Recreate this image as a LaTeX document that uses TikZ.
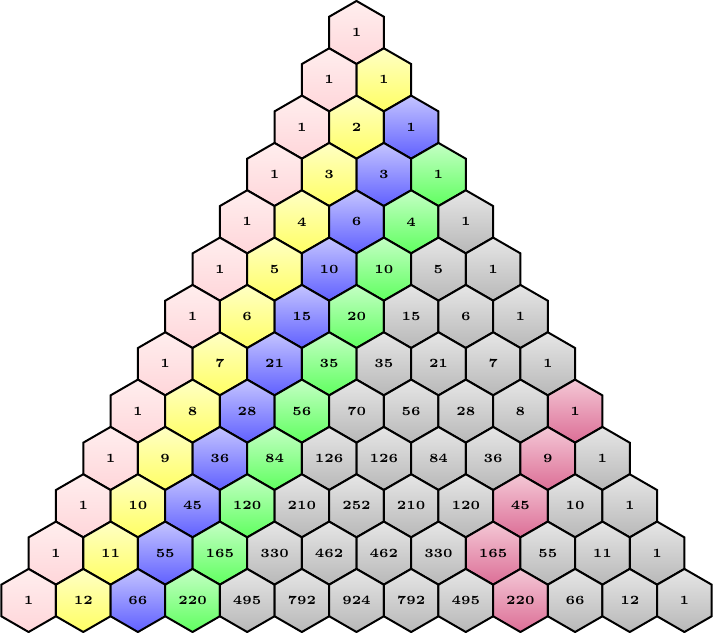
\documentclass[tikz,border=0pt]{standalone}
\usetikzlibrary{shapes.geometric}
\definecolor{pinkT}{RGB}{255,238,238}
\definecolor{pinkB}{RGB}{255,214,218}
\definecolor{yelT}{RGB}{255,255,196}
\definecolor{yelB}{RGB}{255,255,100}
\definecolor{bluT}{RGB}{196,196,255}
\definecolor{bluB}{RGB}{96,96,255}
\definecolor{grnT}{RGB}{196,255,196}
\definecolor{grnB}{RGB}{96,255,96}
\definecolor{gryT}{RGB}{230,230,230}
\definecolor{gryB}{RGB}{184,184,184}
\definecolor{redT}{RGB}{244,200,214}
\definecolor{redB}{RGB}{220,110,150}
\tikzset{
  hexcell/.style={regular polygon, regular polygon sides=6, shape border rotate=30,
    minimum size=25.24pt, inner sep=0pt, outer sep=0pt, draw=black, line width=0.8pt,
    font=\tiny\bfseries, text=black},
  pinkcell/.style={top color=pinkT, bottom color=pinkB},
  yellowcell/.style={top color=yelT, bottom color=yelB},
  bluecell/.style={top color=bluT, bottom color=bluB},
  greencell/.style={top color=grnT, bottom color=grnB},
  graycell/.style={top color=gryT, bottom color=gryB},
  redcell/.style={top color=redT, bottom color=redB},
  colsel/.code 2 args={%
    \ifnum#2>3
      \tikzset{graycell}%
      \ifnum#2=8 \ifnum#1<12 \tikzset{redcell}\fi\fi
      \ifnum#2=9 \ifnum#1=12 \tikzset{redcell}\fi\fi
    \else
      \ifcase#2 \tikzset{pinkcell}\or\tikzset{yellowcell}\or\tikzset{bluecell}\or\tikzset{greencell}\fi
    \fi}
}
\begin{document}
\begin{tikzpicture}[x=0.4pt,y=-0.4pt]
\useasboundingbox (0,0) rectangle (713,633);
\foreach \n/\vals in {
 0/{1},
 1/{1,1},
 2/{1,2,1},
 3/{1,3,3,1},
 4/{1,4,6,4,1},
 5/{1,5,10,10,5,1},
 6/{1,6,15,20,15,6,1},
 7/{1,7,21,35,35,21,7,1},
 8/{1,8,28,56,70,56,28,8,1},
 9/{1,9,36,84,126,126,84,36,9,1},
 10/{1,10,45,120,210,252,210,120,45,10,1},
 11/{1,11,55,165,330,462,462,330,165,55,11,1},
 12/{1,12,66,220,495,792,924,792,495,220,66,12,1}}{
  \foreach \v [count=\kk from 0] in \vals {
    \node[hexcell, colsel={\n}{\kk}] (h-\n-\kk) at ({356.5+(\kk-\n/2)*54.65},{32.5+\n*47.33}) {\v};
  }
}
\end{tikzpicture}
\end{document}
